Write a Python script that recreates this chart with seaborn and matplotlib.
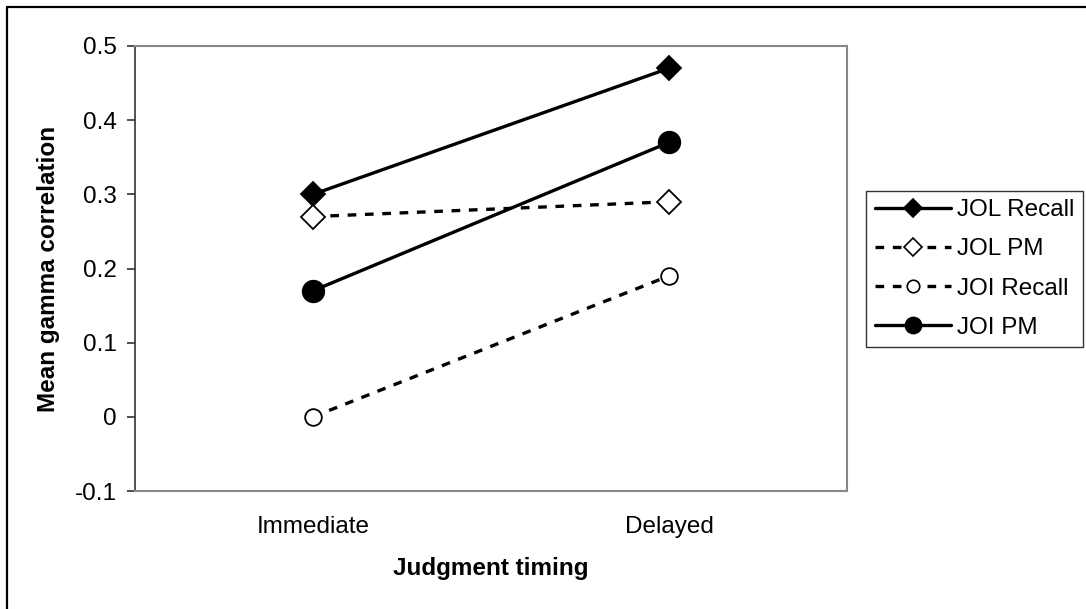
import matplotlib
matplotlib.use("Agg")
import matplotlib.pyplot as plt
import seaborn as sns
import pandas as pd
from matplotlib.lines import Line2D

timing = ["Immediate", "Delayed"]
jol_recall = [0.30, 0.47]
jol_pm = [0.27, 0.29]
joi_recall = [0.00, 0.19]
joi_pm = [0.17, 0.37]
series_names = ["JOL Recall", "JOL PM", "JOI Recall", "JOI PM"]
yticks = [-0.1, 0, 0.1, 0.2, 0.3, 0.4, 0.5]
ytick_labels = ["-0.1", "0", "0.1", "0.2", "0.3", "0.4", "0.5"]

sns.set_theme(style="white")
plt.rcParams["font.family"] = ["Liberation Sans", "DejaVu Sans"]
plt.rcParams["text.color"] = "black"
plt.rcParams["axes.labelcolor"] = "black"
plt.rcParams["xtick.color"] = "black"
plt.rcParams["ytick.color"] = "black"

FS = 17.5
styles = {
    "JOL Recall": dict(marker="D", ms=12, mfc="black", ls="-"),
    "JOL PM": dict(marker="D", ms=12, mfc="white", ls=(0, (2.6, 2.6))),
    "JOI Recall": dict(marker="o", ms=12, mfc="white", ls=(0, (2.6, 2.6))),
    "JOI PM": dict(marker="o", ms=15.5, mfc="black", ls="-"),
}
values = [jol_recall, jol_pm, joi_recall, joi_pm]

fig = plt.figure(figsize=(10.86, 6.09), dpi=100)
ax = fig.add_axes([135/1086, 1-491/609, 712/1086, 445/609])

for name, vals in zip(series_names, values):
    df = pd.DataFrame({"timing": timing, "gamma": vals})
    st = styles[name]
    sns.lineplot(data=df, x="timing", y="gamma", ax=ax, sort=False,
                 color="black", lw=2.4, linestyle=st["ls"],
                 marker=st["marker"], markersize=st["ms"],
                 markerfacecolor=st["mfc"], markeredgecolor="black",
                 markeredgewidth=1.3, zorder=3)

ax.set_xlim(-0.5, 1.5)
ax.set_ylim(-0.1, 0.5)
ax.set_yticks(yticks)
ax.set_yticklabels(ytick_labels)
ax.tick_params(axis="y", which="both", left=True, length=6, width=1.2,
               color="#333333", labelsize=FS, pad=7, labelcolor="black")
ax.tick_params(axis="x", bottom=False, labelsize=FS, pad=12, labelcolor="black")
for s in ["top", "right", "bottom"]:
    ax.spines[s].set_color("#888888")
    ax.spines[s].set_linewidth(1.5)
ax.spines["left"].set_color("#333333")
ax.spines["left"].set_linewidth(1.2)
ax.grid(False)
ax.set_xlabel("Judgment timing", fontsize=FS, fontweight="bold", labelpad=14,
              color="black")
ax.set_ylabel("Mean gamma correlation", fontsize=FS, fontweight="bold",
              labelpad=11, color="black")

handles = []
for name in series_names:
    st = styles[name]
    handles.append(Line2D([], [], color="black", lw=2.4, linestyle=st["ls"],
                          marker=st["marker"], markersize=st["ms"] * 0.75,
                          markerfacecolor=st["mfc"], markeredgecolor="black",
                          markeredgewidth=1.2))
leg = fig.legend(handles, series_names, loc="center left",
                 bbox_to_anchor=(866/1086, 1-269/609), fontsize=FS,
                 frameon=True, fancybox=False, edgecolor="black",
                 handlelength=3.15, handletextpad=0.25, labelspacing=0.7,
                 borderpad=0.35, borderaxespad=0)
leg.get_frame().set_linewidth(1.0)

# outer frame (only top and left edges visible in the cropped reference)
fig.add_artist(Line2D([6.5/1086, 6.5/1086], [0, 1-6.5/609], color="black",
                      lw=1.6, transform=fig.transFigure))
fig.add_artist(Line2D([6.5/1086, 1], [1-6.5/609, 1-6.5/609], color="black",
                      lw=1.6, transform=fig.transFigure))

fig.savefig("out.png", dpi=100)
